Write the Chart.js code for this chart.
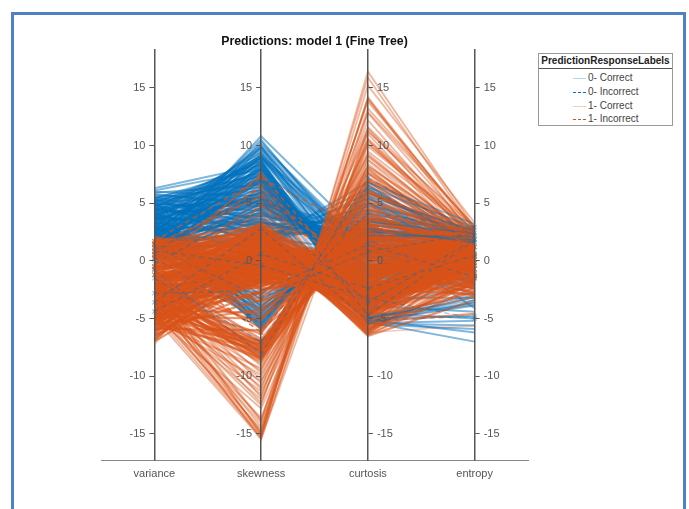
<!DOCTYPE html>
<html lang="en">
<head>
<meta charset="UTF-8">
<title>Predictions: model 1 (Fine Tree)</title>
<script src="https://cdn.jsdelivr.net/npm/chart.js"></script>
<style>
    html, body { margin: 0; padding: 0; background: #fff; overflow: hidden; }
    #page { position: relative; width: 689px; height: 509px; overflow: hidden; filter: blur(0.45px); }
    #frame { position: absolute; left: 11px; top: 12px; width: 669px; height: 520px; border: 3px solid #4f81c4; }
    canvas { position: absolute; left: 0; top: 0; }
    #legend { position: absolute; left: 538px; top: 53px; width: 133px; height: 71px; border: 1px solid #999; background: #fff;
        font: 10px "Liberation Sans", Arial, sans-serif; color: #444; }
    #legend .head { height: 14px; line-height: 14px; text-align: center; font-weight: bold; color: #222; border-bottom: 1px solid #555; }
    #legend .row { position: absolute; left: 34px; height: 14px; line-height: 14px; white-space: nowrap; }
    #legend .row i { display: inline-block; width: 13px; height: 0; border-top: 1.5px solid; vertical-align: middle; margin-right: 2px; }
</style>
</head>
<body>
<div id="page">
    <div id="frame"></div>
    <canvas id="chart" width="689" height="509"></canvas>
    <div id="legend"><div class="head"></div></div>
</div>
<script>
var titleText = 'Predictions: model 1 (Fine Tree)';
var legendTitle = 'PredictionResponseLabels';
var legendLabels = ['0- Correct', '0- Incorrect', '1- Correct', '1- Incorrect'];
var categories = ['variance', 'skewness', 'curtosis', 'entropy'];

// each row is one banknote: variance, skewness, curtosis, entropy
var blueCorrect = [
[6.3,8.3,-2.4,-0.6],[6.1,7.9,-3.1,1.2],[5.9,6.6,-1.8,-1.9],[5.5,7.4,-2.9,0.4],[5.4,8.1,-4.0,1.6],[5.3,6.1,-0.6,2.3],[5.2,5.4,1.1,1.9],[5.1,7.0,-3.4,-0.2],
[5.0,8.6,-4.6,0.9],[4.9,4.7,0.4,2.6],[4.8,6.4,-2.2,1.4],[4.7,7.7,-3.7,-1.2],[4.6,9.0,-1.3,0.1],[4.5,5.8,-1.4,2.1],[4.4,3.9,2.3,2.8],[4.3,8.3,-3.9,1.7],
[4.2,6.9,-2.6,-0.8],[4.1,9.4,-0.8,-2.4],[4.0,5.1,0.2,1.1],[3.9,7.5,-3.0,2.4],[3.8,3.2,3.4,2.2],[3.7,8.8,-4.4,0.6],[3.6,6.2,-1.1,1.8],[3.5,9.7,0.4,-1.5],
[3.4,4.4,1.6,2.9],[3.3,7.2,-2.7,0.0],[3.2,8.0,-3.5,1.3],[3.1,5.6,-0.3,-2.9],[3.0,2.6,4.1,2.5],[2.9,9.2,0.5,2.0],[2.8,6.7,-1.9,0.7],[2.7,7.9,0.6,1.5],
[2.6,4.9,2.5,2.7],[2.5,8.5,-5.0,-3.6],[2.4,6.0,-1.3,1.0],[2.3,10.1,1.0,-0.4],[2.2,3.6,3.1,2.3],[2.1,7.3,-2.5,1.9],[2.0,9.6,0.0,0.3],[1.9,5.3,0.9,-1.7],
[1.8,8.2,-3.3,2.5],[1.7,2.1,5.4,2.0],[1.6,6.5,-0.9,1.2],[1.5,10.5,-0.5,0.8],[1.4,4.2,2.0,-4.1],[1.3,7.8,-4.3,1.7],[1.2,9.0,1.2,-0.9],[1.1,5.9,-2.0,2.2],
[1.0,10.8,1.7,2.6],[0.9,3.0,3.8,1.4],[0.8,8.7,-5.4,-5.2],[0.7,6.3,-0.1,0.5],[0.6,10.3,0.2,1.1],[0.5,4.6,1.4,2.8],[0.4,7.6,-4.8,-3.0],[0.3,9.9,0.8,0.2],
[0.2,5.0,2.8,1.6],[0.1,8.4,-5.5,-5.9],[0.9,1.5,6.8,2.0],[1.4,1.8,6.2,1.7],[2.3,1.2,5.9,2.4],[3.3,2.0,4.7,1.9],[4.1,1.6,3.6,2.2],[4.8,2.3,2.7,1.3],
[5.6,3.4,1.0,2.6],[5.8,4.8,-0.4,0.8],[6.0,5.6,-1.0,2.1],[5.4,3.0,-2.2,3.0],[4.6,2.8,-3.2,-3.2],[3.6,3.9,-3.9,-4.4],[2.7,3.2,-4.5,-5.0],[1.9,3.7,-5.1,-6.2],
[1.2,2.7,-5.3,-7.0],[5.0,4.3,-4.2,-2.1],[4.4,5.5,-5.0,-4.8],[3.4,6.8,-5.4,-5.6],[2.5,5.2,-4.9,-3.8],[1.6,4.5,-4.4,-1.3],[0.8,3.5,-3.7,1.0],[0.4,2.4,-2.8,2.3],
[3.9,8.9,-1.8,0.9],[3.0,9.9,-1.0,1.5],[2.2,8.6,-3.8,2.9],[1.3,9.4,-1.5,1.8],[0.6,7.2,-4.1,0.3],[5.2,7.6,-4.7,1.0],[4.7,8.4,-2.8,2.7],[3.5,7.0,-0.8,2.0],
[2.9,5.0,0.7,2.4],[2.1,6.1,0.1,3.0],[1.5,4.0,1.9,2.6],[1.0,5.7,-1.6,1.4],[4.3,4.1,0.8,1.6],[3.8,5.3,-0.7,-0.5],[3.2,3.4,1.5,0.9],[2.4,2.9,2.9,1.1],
[1.8,2.4,2.2,2.1],[5.3,2.6,-1.2,1.8],[4.9,1.3,0.3,0.7],[2.8,1.0,1.2,2.5],
// second pass through the upper mass
[5.7,5.0,-1.6,1.1],[5.4,6.7,-2.0,2.2],[5.1,3.6,0.6,2.8],[4.9,7.3,-3.2,0.2],[4.6,5.2,-0.2,1.7],[4.4,8.7,-4.4,2.4],[4.2,4.5,1.2,0.9],[4.0,6.5,-2.4,2.0],
[3.8,7.9,-3.6,1.4],[3.6,5.5,-0.5,2.6],[3.4,9.1,-0.6,0.4],[3.2,4.8,0.3,1.9],[3.0,7.5,-3.1,2.9],[2.8,5.9,-1.5,1.0],[2.6,8.9,0.3,1.6],[2.4,4.1,1.7,2.3],
[2.2,7.1,-2.2,0.6],[2.0,5.6,-0.8,2.7],[1.8,9.9,-3.4,1.2],[1.6,3.3,2.6,2.1],[1.4,6.9,-2.8,1.8],[1.2,8.1,-3.9,0.1],[1.0,4.9,0.5,2.5],[0.8,6.0,-1.2,1.3],
[0.6,9.2,-2.6,2.2],[0.5,3.9,2.1,0.8],[0.4,5.4,-0.6,1.6],[0.3,7.0,-3.5,2.4],[0.2,8.0,-4.1,0.7],[0.1,4.3,1.0,2.0],[3.7,3.0,2.7,1.5],[2.9,2.4,3.6,2.6],
[2.1,1.9,4.4,1.3],[1.3,1.3,5.0,2.3],[0.7,2.0,3.2,1.9],[4.5,3.3,1.8,2.5],[5.0,2.0,0.9,1.2],[4.0,2.5,2.4,0.5],[1.5,7.2,-1.0,1.7],[2.5,9.0,-2.9,0.9],
// lower branch, skewness below zero
[4.6,-5.9,6.2,1.4],[3.9,-5.6,6.6,0.6],[3.3,-6.0,5.8,2.1],[2.7,-5.4,5.1,-0.2],[2.1,-5.8,6.0,1.8],[1.6,-5.2,4.8,2.6],[1.1,-5.5,5.5,0.9],[0.7,-4.9,3.9,1.7],
[4.2,-5.0,4.4,2.4],[3.5,-4.7,3.5,1.1],[2.9,-5.1,2.8,-1.0],[2.3,-4.6,4.1,2.2],[1.8,-4.4,2.4,0.3],[1.2,-4.8,3.2,1.5],[0.9,-4.2,2.0,2.8],[3.8,-4.3,3.0,0.7],
[3.1,-3.9,2.7,1.9],[2.5,-4.1,1.8,-2.2],[1.9,-3.6,2.5,2.5],[1.4,-3.8,1.4,1.2],[4.0,-3.4,2.2,-0.7],[3.4,-3.1,1.6,2.0],[2.6,-2.9,1.1,0.2],[2.0,-3.3,0.8,1.0],
[4.4,-4.5,5.0,1.6],[4.9,-5.3,5.4,0.4],[5.2,-4.0,3.7,2.7],[3.0,-5.7,6.4,1.3]
];

// the strip right of curtosis where blue shows through the orange
var blueCurtosisSide = [
[null,null,-5.4,-3.6],[null,null,-5.2,-3.9],[null,null,-5.0,-3.2],[null,null,-4.9,-3.4],
[null,null,2.5,1.8],[null,null,2.2,2.1],[null,null,2.8,1.6],[null,null,3.4,2.4],[null,null,6.8,3.2],[null,null,6.4,2.9],[null,null,5.6,2.6]
];

// fans out to the far skewness and curtosis values, lighter than the core
var orangeFan = [
[-4.9,-15.4,10.2,2.0],[-4.6,-15.2,11.5,1.6],[-4.2,-15.0,14.2,2.4],[-3.8,-15.3,16.4,2.9],[-3.4,-14.8,15.9,2.6],[-4.4,-14.6,14.1,1.9],[-3.0,-14.4,11.3,2.2],
[-2.7,-14.9,13.2,3.0],[-3.6,-14.1,11.0,1.2],[-2.2,-13.8,14.0,2.7],[-4.0,-13.6,10.5,1.0],[-1.9,-15.1,15.2,3.3],[-2.5,-13.9,12.2,1.8],[-3.2,-15.5,12.8,2.3],
[-4.8,-12.8,8.4,1.1],[-3.5,-12.5,13.8,2.8],[-2.6,-12.3,10.6,2.0],[-4.1,-12.0,7.6,0.6],[-1.8,-11.8,12.9,3.0],[-3.0,-11.6,9.3,1.7],[-4.5,-11.3,6.9,0.2],
[-2.2,-11.1,11.6,2.5],[-3.7,-10.9,8.7,1.3],[-1.6,-10.6,10.4,2.2],[-5.0,-10.4,5.6,-0.4],[-2.9,-10.2,9.9,2.6],[-4.3,-9.9,6.2,0.8],[-2.0,-9.7,8.8,1.9],
[-3.3,-9.5,11.2,2.9],[-5.3,-9.3,4.9,-0.9],[-1.7,-9.1,7.3,1.5],[-2.6,-8.9,9.5,2.4],[-3.9,-8.8,5.1,0.4],[-4.7,-8.6,7.8,1.6],[-1.5,-8.4,10.1,2.7]
];

var orangeCorrect = [
[-3.1,-8.3,4.4,-0.2],[-2.3,-8.1,6.6,1.1],[-4.4,-8.0,8.2,2.0],[-1.4,-7.9,3.8,0.5],[-3.6,-7.8,9.1,1.8],[-5.6,-7.7,3.2,-1.3],[-2.0,-7.6,5.7,0.9],
[-2.8,-7.4,7.0,2.3],[-4.0,-7.3,2.6,-0.7],
// sparse middle
[-1.2,-6.8,4.6,1.2],[-3.4,-6.3,6.1,1.9],[-0.9,-5.8,3.4,0.3],[-2.4,-5.3,7.1,2.6],[-0.6,-4.9,2.2,-0.5],[-4.2,-4.5,4.0,1.4],[-1.8,-4.1,5.2,2.1],
[-0.3,-3.6,1.2,-1.1],[-3.0,-3.2,3.0,0.7],[-1.0,-2.9,4.5,1.8],[-5.1,-2.6,0.4,-1.8],[0.4,-2.3,2.4,0.9],
// dense core
[-4.9,-1.9,2.4,0.3],[-1.2,-1.9,-1.1,-2.2],[0.8,-1.8,3.6,1.7],[-3.3,-1.8,-2.8,0.9],[-6.2,-1.7,1.1,-1.4],[-2.1,-1.7,0.2,2.4],[1.3,-1.6,-3.2,-0.6],[-0.4,-1.6,2.9,1.2],
[-3.9,-1.5,-1.9,-2.6],[-5.3,-1.5,3.2,2.0],[-1.7,-1.4,-0.5,0.1],[0.2,-1.4,1.7,-1.0],[1.7,-1.3,-2.5,1.5],[-2.8,-1.3,2.3,2.7],[-4.4,-1.2,-3.6,-0.3],[-0.9,-1.2,0.8,-2.0],
[-5.8,-1.1,-0.8,1.0],[-3.0,-1.1,1.5,-1.2],[1.0,-1.0,-1.6,2.2],[-1.5,-1.0,-3.9,0.6],[-4.1,-0.9,2.7,1.7],[0.5,-0.9,-0.2,-2.8],[-2.4,-0.8,-2.2,2.9],[-6.6,-0.8,0.6,-0.5],
[-3.6,-0.7,1.0,0.2],[1.5,-0.7,-4.1,1.1],[-0.2,-0.6,2.1,2.5],[-5.0,-0.6,-1.4,-1.6],[-1.9,-0.5,0.4,1.4],[-3.2,-0.5,-3.0,-0.9],[0.9,-0.4,1.3,0.7],[-4.6,-0.4,-4.3,2.1],
[-1.1,-0.3,-0.7,-2.4],[-2.7,-0.3,2.0,1.9],[1.9,-0.2,-2.7,-0.1],[-5.5,-0.2,0.0,0.9],[-0.6,-0.1,-3.3,1.6],[-3.8,-0.1,1.6,-1.9],[0.3,0.0,-1.0,2.6],[-2.2,0.0,-4.6,0.4],
[-4.3,0.1,-0.4,-0.7],[1.2,0.1,1.2,1.3],[-1.4,0.2,-2.0,2.3],[-6.0,0.2,-3.4,-1.1],[-2.9,0.3,0.9,0.5],[0.7,0.3,-5.1,-2.7],[-3.5,0.4,-1.7,1.8],[-0.8,0.4,0.3,-1.4],
[1.6,0.5,-3.7,0.8],[-4.8,0.5,1.0,2.4],[-2.0,0.6,-2.9,-0.4],[-0.1,0.6,-0.9,1.0],[-5.2,0.7,-4.8,0.0],[-3.1,0.7,-0.2,2.8],[1.1,0.8,-2.3,-1.8],[-1.6,0.8,0.7,1.5],
[-4.0,0.9,-5.4,-3.1],[0.4,0.9,-1.3,0.3],[-2.5,1.0,-3.5,2.0],[-6.9,1.0,-1.9,-0.8],[-0.5,1.1,0.5,1.2],[1.8,1.1,-4.4,-0.5],[-3.4,1.2,-2.6,0.8],[-1.3,1.2,-5.8,-2.0],
[-4.5,1.3,-0.6,2.2],[0.0,1.3,-3.1,1.7],[-2.3,1.4,0.2,-1.0],[1.4,1.4,-1.5,0.6],[-5.6,1.5,-4.0,-0.2],[-3.7,1.5,-1.2,2.5],[-0.7,1.6,-6.2,-1.6],[0.6,1.6,-2.4,1.1],
[-1.8,1.7,-3.8,0.2],[-4.2,1.7,-5.0,1.9],[1.0,1.8,-0.3,-0.9],[-2.8,1.8,-2.1,2.7],[-6.3,1.9,-6.0,-1.3],[-0.3,1.9,-4.7,0.9],[-3.3,2.0,-1.6,-0.3],[1.5,2.0,-3.3,1.4],
[-1.0,2.1,-5.5,2.2],[-5.0,2.1,-2.8,0.5],[-2.1,2.2,-0.7,1.7],[0.2,2.2,-6.4,-2.3],[-3.9,2.3,-4.2,-0.6],[0.9,2.3,-1.9,2.4],[-1.5,2.4,-3.0,0.0],[-5.9,2.4,-5.2,1.2],
[-2.6,2.5,-6.5,-3.4],[-0.2,2.5,-2.5,1.9],[-4.4,2.6,-3.6,0.7],[1.3,2.6,-4.9,-0.8],[-1.2,2.7,-1.4,2.6],[-3.0,2.7,-5.7,0.3],[0.5,2.8,-3.2,1.5],[-2.0,2.8,-4.4,-1.7],
[-5.4,2.9,-6.3,-0.1],[-0.6,2.9,-1.1,1.0],[-3.5,3.0,-3.9,2.1],[1.7,3.0,-5.3,-4.6],[-1.7,3.1,-6.1,0.8],[-4.7,3.1,-2.2,-1.0],[0.1,3.2,-4.6,1.6],[-2.4,3.3,-2.9,2.3],
// remaining fill down the left axis
[-6.0,-3.4,-1.2,0.6],[-5.5,-4.2,0.8,1.9],[-4.8,-5.0,1.6,-0.9],[-5.9,-6.0,2.0,1.0],[-6.4,-2.6,-0.4,-1.7],[-7.0,-1.4,-2.2,-0.2],[-2.0,-2.4,-1.6,-3.0],[-3.8,-2.2,0.6,-2.4],
[-4.6,-2.8,3.6,1.1],[-2.9,-2.1,-0.9,2.0],[-1.1,-2.2,3.2,-0.6],[1.1,-2.5,1.0,2.2],[-0.1,-2.0,-2.4,-2.9],[1.6,-1.9,0.7,0.0],[2.0,-0.6,-1.2,1.4],[2.1,0.4,-2.6,-1.5],
// second pass, keeps the core solid
[-6.5,-1.0,-1.5,0.4],[-6.0,-0.4,-2.5,1.3],[-5.6,0.3,-3.9,-0.6],[-5.2,-1.8,0.9,1.6],[-4.8,-0.8,-0.9,-1.2],[-4.5,0.9,-4.5,0.6],[-4.2,-1.6,1.8,2.2],[-3.9,1.1,-3.3,-1.9],
[-3.6,-0.3,-1.1,1.0],[-3.3,1.6,-4.9,2.4],[-3.0,-1.5,2.6,0.1],[-2.7,0.5,-2.3,-0.8],[-2.4,-1.1,0.9,1.7],[-2.1,1.9,-5.6,0.9],[-1.8,-0.2,-1.9,-1.5],[-1.5,1.4,-3.4,2.1],
[-1.2,-0.9,1.4,0.5],[-0.9,2.2,-4.1,-0.3],[-0.6,0.6,-0.4,1.5],[-0.3,-1.3,1.9,-1.1],[0.0,1.7,-2.9,2.3],[0.3,-0.5,0.1,0.8],[0.6,2.5,-5.9,-1.8],[0.9,0.2,-1.8,1.9],
[1.2,-1.2,2.2,0.2],[1.5,1.3,-3.5,-0.7],[1.8,-0.4,-0.1,1.2],[-5.0,-1.0,2.0,-0.4],[-4.3,0.6,-2.6,1.8],[-3.7,-1.9,-0.3,0.7],[-3.1,0.0,-3.7,-1.3],[-2.5,-0.6,1.2,2.6],
[-1.9,1.0,-2.1,0.3],[-1.3,-1.7,3.0,1.1],[-0.7,0.8,-4.5,-2.1],[-0.1,-0.8,0.6,2.0],[0.5,1.9,-2.7,0.6],[1.1,0.0,-0.6,-0.5],[1.7,2.4,-4.7,1.6],[-6.8,0.5,-3.0,-0.9],
[-2.0,-7.2,6.0,1.0],[-3.2,-7.5,7.6,1.8],[-4.6,-7.0,4.2,0.2],[-2.5,-7.9,5.0,-0.8],[-3.8,-8.2,6.9,1.5],[-5.0,-8.4,4.0,0.5],[-1.8,-7.0,2.8,1.9],[-4.2,-7.6,5.9,2.4],
[-3.0,-8.6,8.0,0.8],[-5.4,-7.2,1.9,-0.3],[-2.2,-8.5,3.6,1.2],[-3.3,-7.0,2.2,-2.0]
];

// the rows above the main orange mass, much fainter in the picture
var orangeThin = [
[-6.5,3.4,-6.4,-1.9],[-3.2,3.6,-5.2,1.3],[-0.9,3.8,-4.1,0.4],[1.0,4.0,-6.0,-2.6],[-6.9,4.2,-5.8,-0.6],[-2.2,4.3,-3.4,2.0],[0.3,4.6,-6.3,1.1],[-4.0,4.8,-5.5,-1.4],
[-7.3,5.1,-6.0,-1.5],[-1.4,5.3,-4.8,2.4],[1.4,5.6,-6.2,-5.6],[-2.8,5.8,-5.1,0.2],[-0.4,6.1,-5.6,1.7],[0.8,6.4,-5.9,-0.4],[-1.9,6.8,-6.1,2.6],[0.2,7.2,-5.4,-3.8],[-0.8,7.6,-5.7,1.4]
];

var blueWrong = [
[0.6,7.2,-4.7,1.8],[-1.5,-7.0,6.4,1.6],[-2.8,-2.6,1.4,-1.4],[-0.8,-8.1,7.2,2.2],[-4.4,0.6,-2.4,0.5],[0.9,-0.4,-3.2,-5.0],[-3.6,2.8,-5.2,-4.8],[-0.2,4.6,-3.6,1.9],
[1.2,-3.2,0.8,2.4],[0.3,-5.4,4.2,2.9]
];

var orangeWrong = [
[1.7,7.2,2.4,0.6],[1.4,5.6,-0.8,-0.2],[0.8,3.1,1.1,-1.1],[0.2,6.4,-2.0,-1.5],[-0.5,7.5,-3.0,0.1],[-1.2,4.8,-1.4,-0.7],[1.1,-2.9,3.4,-1.3],[-0.7,-3.3,2.0,0.4],
[0.5,-6.2,5.1,1.2],[1.5,1.0,-1.0,-0.4]
];

function rowsToDatasets(rows, color, width, dashed) {
    return rows.map(function (row) {
        return {
            data: row,
            yAxisID: 'y0',
            borderColor: color,
            borderWidth: width,
            borderDash: dashed ? [5, 4] : [],
            pointRadius: dashed ? 3 : 0,
            pointStyle: 'crossRot',
            pointBorderColor: color,
            pointBorderWidth: 1.2,
            fill: false,
            tension: 0
        };
    });
}

function axisScale(side) {
    return {
        type: 'linear',
        position: side,
        min: -17.26,
        max: 18.3,
        afterFit: function (scale) { scale.width = 0; },
        grid: { drawOnChartArea: false, drawTicks: true, tickLength: 5, tickColor: '#555', tickWidth: 1, z: 1 },
        border: { display: true, color: '#555', width: 1.5, z: 1 },
        ticks: { stepSize: 5, includeBounds: false, padding: 4, color: '#555', z: 1,
                 font: { family: '"Liberation Sans"', size: 11 } }
    };
}

// move each y scale onto its own category after layout
var parallelAxes = {
    id: 'parallelAxes',
    afterLayout: function (chart) {
        categories.forEach(function (name, i) {
            var scale = chart.scales['y' + i];
            var px = chart.scales.x.getPixelForValue(i);
            if (scale.options.position === 'left') {
                scale.left = px - 60;
                scale.right = px;
            } else {
                scale.left = px;
                scale.right = px + 60;
            }
        });
    }
};

// Chart.js paints the first dataset last, so the top layer goes first
var datasets = rowsToDatasets(orangeWrong, 'rgba(217,83,25,0.8)', 1.4, true)
    .concat(rowsToDatasets(blueWrong, 'rgba(0,114,189,0.38)', 1.3, true))
    .concat(rowsToDatasets(blueCurtosisSide, 'rgba(0,114,189,0.42)', 1.6, false))
    .concat(rowsToDatasets(orangeCorrect, 'rgba(217,83,25,0.6)', 2.3, false))
    .concat(rowsToDatasets(orangeFan, 'rgba(217,83,25,0.42)', 1.8, false))
    .concat(rowsToDatasets(orangeThin, 'rgba(217,83,25,0.3)', 1.5, false))
    .concat(rowsToDatasets(blueCorrect, 'rgba(0,114,189,0.5)', 2, false));

new Chart(document.getElementById('chart'), {
    type: 'line',
    data: { labels: categories, datasets: datasets },
    plugins: [parallelAxes],
    options: {
        responsive: false,
        animation: false,
        layout: { autoPadding: false, padding: { left: 101, right: 161, top: 34, bottom: 29 } },
        plugins: {
            legend: { display: false },
            tooltip: { enabled: false },
            title: {
                display: true,
                fullSize: false,
                text: titleText,
                color: '#111',
                font: { family: '"Liberation Sans"', size: 12.3, weight: 'bold' },
                padding: { top: 0, bottom: 1 }
            }
        },
        scales: {
            x: {
                type: 'category',
                offset: true,
                afterFit: function (scale) { scale.height = 20; },
                grid: { display: false, drawTicks: false },
                border: { display: true, color: '#888', width: 1 },
                ticks: { color: '#555', padding: 7, maxRotation: 0, font: { family: '"Liberation Sans"', size: 11 } }
            },
            y0: axisScale('left'),
            y1: axisScale('left'),
            y2: axisScale('right'),
            y3: axisScale('right')
        }
    }
});

// legend box next to the chart
var legendBox = document.getElementById('legend');
legendBox.querySelector('.head').textContent = legendTitle;
var legendColors = ['#b5d5ea', '#0072bd', '#f3cdb8', '#d95319'];
var legendTops = [17, 31, 45, 58];
legendLabels.forEach(function (label, i) {
    var row = document.createElement('div');
    row.className = 'row';
    row.style.top = legendTops[i] + 'px';
    var sample = document.createElement('i');
    sample.style.borderTopColor = legendColors[i];
    if (i % 2 === 1) { sample.style.borderTopStyle = 'dashed'; }
    row.appendChild(sample);
    row.appendChild(document.createTextNode(label));
    legendBox.appendChild(row);
});
</script>
</body>
</html>
